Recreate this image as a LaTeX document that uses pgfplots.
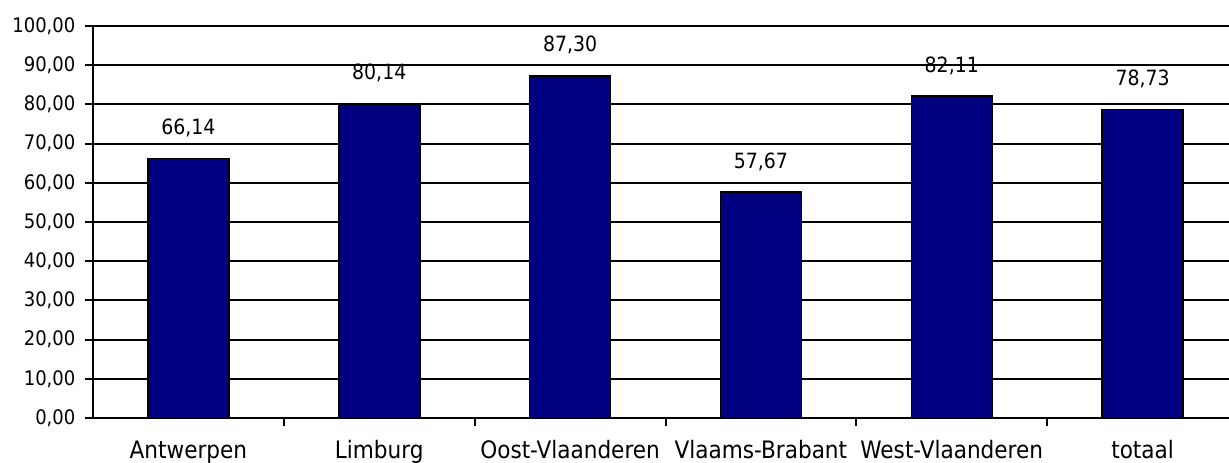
\documentclass[border=0pt]{standalone}
\usepackage{fontspec}
\setmainfont{DejaVu Sans Condensed}
\usepackage{pgfplots}
\pgfplotsset{compat=1.18}
\pgfkeys{/pgf/number format/assume math mode=true}
\definecolor{barnavy}{RGB}{0,0,128}
\begin{document}
\begin{tikzpicture}[x=1pt,y=1pt]
\path[use as bounding box, clip] (0,0) rectangle (614.5,231);
\begin{axis}[
  at={(46.5pt,22pt)}, anchor=south west,
  scale only axis, width=572.5pt, height=196pt,
  xmin=-0.5, xmax=5.5, ymin=0, ymax=100,
  axis x line=bottom, axis y line=left,
  axis line style={-, black, line width=1pt},
  ytick={0,10,...,100},
  yticklabel style={font=\fontsize{10}{11}\selectfont, xshift=-1.5pt, /pgf/number format/.cd, fixed, fixed zerofill, precision=2, use comma},
  ymajorgrids, grid style={black, line width=1pt},
  tick style={black, line width=1pt},
  tick align=outside, major tick length=3.8pt,
  xtick={0.5,1.5,2.5,3.5,4.5,5.5}, xticklabels={},
  extra x ticks={0,1,2,3,4,5},
  extra x tick labels={Antwerpen,Limburg,Oost-Vlaanderen,Vlaams-Brabant,West-Vlaanderen,totaal},
  extra x tick style={major tick length=0pt, grid=none, tick style={draw=none}},
  xticklabel style={anchor=base, yshift=-20.3pt, font=\fontsize{12}{14}\selectfont},
  ybar, bar width=40.5pt,
  nodes near coords={\pgfmathprintnumber[fixed,fixed zerofill,precision=2,use comma]{\pgfplotspointmeta}},
  every node near coord/.append style={font=\fontsize{10.5}{12}\selectfont, yshift=7pt, black},
]
\addplot[fill=barnavy, draw=black, line width=0.75pt] coordinates {
  (0,66.14) (1,80.14) (2,87.30) (3,57.67) (4,82.11) (5,78.73)
};
\end{axis}
\end{tikzpicture}
\end{document}
